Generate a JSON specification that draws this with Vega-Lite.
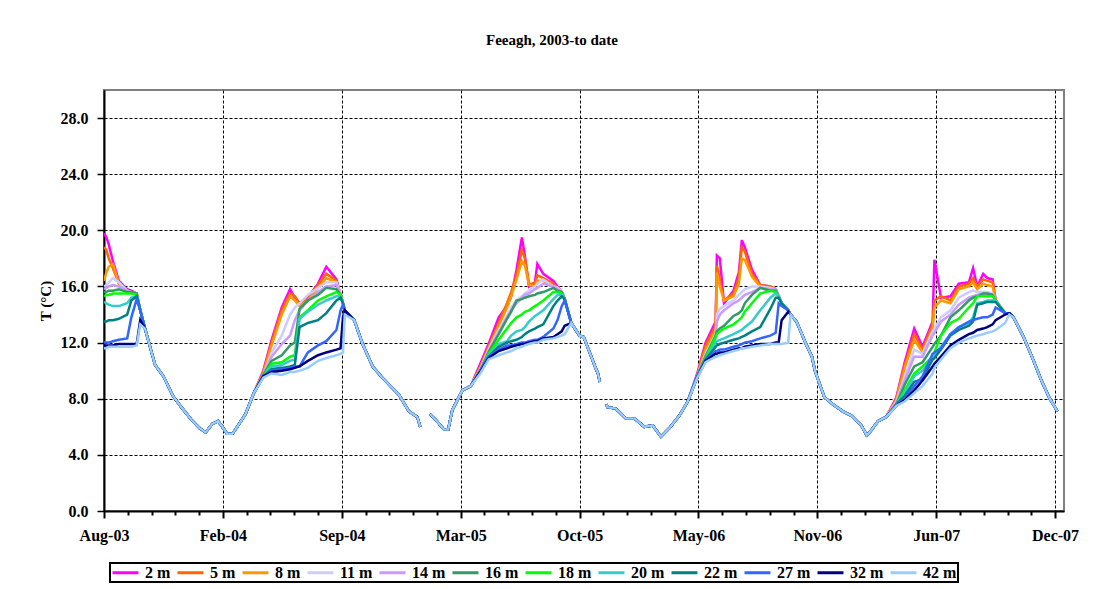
{
  "$schema": "https://vega.github.io/schema/vega-lite/v6.json",
  "width": 960,
  "height": 421,
  "autosize": {"type": "none"},
  "padding": {"left": 104, "top": 90, "right": 41, "bottom": 78},
  "background": "white",
  "title": {
    "text": "Feeagh, 2003-to date",
    "font": "Liberation Serif",
    "fontSize": 15,
    "fontWeight": "bold",
    "color": "black",
    "anchor": "middle",
    "dx": -32,
    "offset": 42
  },
  "config": {
    "view": {"stroke": "#808080", "strokeWidth": 2},
    "axis": {
      "labelFont": "Liberation Serif",
      "labelFontWeight": "bold",
      "labelFontSize": 16,
      "labelColor": "black",
      "titleFont": "Liberation Serif",
      "titleFontWeight": "bold",
      "titleColor": "black",
      "domainColor": "black",
      "domainWidth": 2,
      "tickColor": "black",
      "gridColor": "black",
      "gridDash": [3, 2],
      "gridWidth": 1,
      "labelFlush": false,
      "labelOverlap": false
    }
  },
  "data": {
    "values": [
      {"d":"2003-08-07","2 m":19.8,"5 m":18.8,"8 m":16.4,"11 m":16.0,"14 m":15.8,"16 m":15.6,"18 m":15.3,"20 m":14.9,"22 m":13.5,"27 m":12.0,"32 m":11.8,"42 m":11.6},
      {"d":"2003-08-11","2 m":19.5,"5 m":18.6,"8 m":17.0,"11 m":16.1,"14 m":15.9,"16 m":15.6,"18 m":15.4,"20 m":14.8,"22 m":13.5,"27 m":12.0,"32 m":11.8,"42 m":11.6},
      {"d":"2003-08-15","2 m":19.0,"5 m":18.0,"8 m":17.4,"11 m":16.3,"14 m":16.0,"16 m":15.7,"18 m":15.4,"20 m":14.7,"22 m":13.6,"27 m":12.0,"32 m":11.8,"42 m":11.7},
      {"d":"2003-08-22","2 m":17.8,"5 m":17.3,"8 m":17.6,"11 m":16.6,"14 m":16.1,"16 m":15.7,"18 m":15.5,"20 m":14.6,"22 m":13.6,"27 m":12.1,"32 m":11.8,"42 m":11.7},
      {"d":"2003-09-01","2 m":16.4,"5 m":16.2,"8 m":16.2,"11 m":16.3,"14 m":16.0,"16 m":15.8,"18 m":15.5,"20 m":14.6,"22 m":13.7,"27 m":12.2,"32 m":11.9,"42 m":11.7},
      {"d":"2003-09-15","2 m":15.8,"5 m":15.7,"8 m":15.6,"11 m":15.7,"14 m":15.7,"16 m":15.6,"18 m":15.5,"20 m":14.8,"22 m":14.0,"27 m":12.3,"32 m":11.9,"42 m":11.7},
      {"d":"2003-09-22","2 m":15.7,"5 m":15.6,"8 m":15.6,"11 m":15.6,"14 m":15.6,"16 m":15.6,"18 m":15.5,"20 m":15.2,"22 m":15.0,"27 m":13.8,"32 m":11.9,"42 m":11.7},
      {"d":"2003-10-01","2 m":15.5,"5 m":15.5,"8 m":15.5,"11 m":15.5,"14 m":15.5,"16 m":15.5,"18 m":15.4,"20 m":15.3,"22 m":15.3,"27 m":15.1,"32 m":11.9,"42 m":11.8},
      {"d":"2003-10-07","2 m":14.3,"5 m":14.3,"8 m":14.3,"11 m":14.3,"14 m":14.3,"16 m":14.3,"18 m":14.3,"20 m":14.3,"22 m":14.3,"27 m":14.3,"32 m":13.6,"42 m":13.3},
      {"d":"2003-10-15","2 m":13.0,"5 m":13.0,"8 m":13.0,"11 m":13.0,"14 m":13.0,"16 m":13.0,"18 m":13.0,"20 m":13.0,"22 m":13.0,"27 m":13.0,"32 m":13.0,"42 m":13.0},
      {"d":"2003-11-01","2 m":10.4,"5 m":10.4,"8 m":10.4,"11 m":10.4,"14 m":10.4,"16 m":10.4,"18 m":10.4,"20 m":10.4,"22 m":10.4,"27 m":10.4,"32 m":10.4,"42 m":10.4},
      {"d":"2003-11-15","2 m":9.6,"5 m":9.6,"8 m":9.6,"11 m":9.6,"14 m":9.6,"16 m":9.6,"18 m":9.6,"20 m":9.6,"22 m":9.6,"27 m":9.6,"32 m":9.6,"42 m":9.6},
      {"d":"2003-12-01","2 m":8.2,"5 m":8.2,"8 m":8.2,"11 m":8.2,"14 m":8.2,"16 m":8.2,"18 m":8.2,"20 m":8.2,"22 m":8.2,"27 m":8.2,"32 m":8.2,"42 m":8.2},
      {"d":"2003-12-15","2 m":7.4,"5 m":7.4,"8 m":7.4,"11 m":7.4,"14 m":7.4,"16 m":7.4,"18 m":7.4,"20 m":7.4,"22 m":7.4,"27 m":7.4,"32 m":7.4,"42 m":7.4},
      {"d":"2004-01-01","2 m":6.5,"5 m":6.5,"8 m":6.5,"11 m":6.5,"14 m":6.5,"16 m":6.5,"18 m":6.5,"20 m":6.5,"22 m":6.5,"27 m":6.5,"32 m":6.5,"42 m":6.5},
      {"d":"2004-01-15","2 m":5.9,"5 m":5.9,"8 m":5.9,"11 m":5.9,"14 m":5.9,"16 m":5.9,"18 m":5.9,"20 m":5.9,"22 m":5.9,"27 m":5.9,"32 m":5.9,"42 m":5.9},
      {"d":"2004-01-25","2 m":5.6,"5 m":5.6,"8 m":5.6,"11 m":5.6,"14 m":5.6,"16 m":5.6,"18 m":5.6,"20 m":5.6,"22 m":5.6,"27 m":5.6,"32 m":5.6,"42 m":5.6},
      {"d":"2004-02-05","2 m":6.2,"5 m":6.2,"8 m":6.2,"11 m":6.2,"14 m":6.2,"16 m":6.2,"18 m":6.2,"20 m":6.2,"22 m":6.2,"27 m":6.2,"32 m":6.2,"42 m":6.2},
      {"d":"2004-02-15","2 m":6.4,"5 m":6.4,"8 m":6.4,"11 m":6.4,"14 m":6.4,"16 m":6.4,"18 m":6.4,"20 m":6.4,"22 m":6.4,"27 m":6.4,"32 m":6.4,"42 m":6.4},
      {"d":"2004-02-22","2 m":6.0,"5 m":6.0,"8 m":6.0,"11 m":6.0,"14 m":6.0,"16 m":6.0,"18 m":6.0,"20 m":6.0,"22 m":6.0,"27 m":6.0,"32 m":6.0,"42 m":6.0},
      {"d":"2004-03-01","2 m":5.5,"5 m":5.5,"8 m":5.5,"11 m":5.5,"14 m":5.5,"16 m":5.5,"18 m":5.5,"20 m":5.5,"22 m":5.5,"27 m":5.5,"32 m":5.5,"42 m":5.5},
      {"d":"2004-03-10","2 m":5.5,"5 m":5.5,"8 m":5.5,"11 m":5.5,"14 m":5.5,"16 m":5.5,"18 m":5.5,"20 m":5.5,"22 m":5.5,"27 m":5.5,"32 m":5.5,"42 m":5.5},
      {"d":"2004-03-15","2 m":5.8,"5 m":5.8,"8 m":5.8,"11 m":5.8,"14 m":5.8,"16 m":5.8,"18 m":5.8,"20 m":5.8,"22 m":5.8,"27 m":5.8,"32 m":5.8,"42 m":5.8},
      {"d":"2004-04-01","2 m":6.9,"5 m":6.9,"8 m":6.9,"11 m":6.9,"14 m":6.9,"16 m":6.9,"18 m":6.9,"20 m":6.9,"22 m":6.9,"27 m":6.9,"32 m":6.9,"42 m":6.9},
      {"d":"2004-04-15","2 m":8.4,"5 m":8.4,"8 m":8.4,"11 m":8.4,"14 m":8.4,"16 m":8.4,"18 m":8.4,"20 m":8.4,"22 m":8.4,"27 m":8.4,"32 m":8.4,"42 m":8.4},
      {"d":"2004-05-01","2 m":10.0,"5 m":9.9,"8 m":9.8,"11 m":9.7,"14 m":9.7,"16 m":9.7,"18 m":9.6,"20 m":9.6,"22 m":9.6,"27 m":9.6,"32 m":9.6,"42 m":9.5},
      {"d":"2004-05-15","2 m":12.2,"5 m":12.0,"8 m":11.8,"11 m":11.3,"14 m":11.0,"16 m":10.7,"18 m":10.5,"20 m":10.3,"22 m":10.1,"27 m":10.0,"32 m":9.9,"42 m":9.8},
      {"d":"2004-06-01","2 m":14.5,"5 m":14.3,"8 m":14.0,"11 m":12.5,"14 m":11.9,"16 m":11.1,"18 m":10.6,"20 m":10.4,"22 m":10.2,"27 m":10.1,"32 m":10.0,"42 m":9.7},
      {"d":"2004-06-15","2 m":15.8,"5 m":15.5,"8 m":15.3,"11 m":14.0,"14 m":12.5,"16 m":11.8,"18 m":11.0,"20 m":10.7,"22 m":10.3,"27 m":10.2,"32 m":10.1,"42 m":9.9},
      {"d":"2004-06-23","2 m":15.2,"5 m":15.3,"8 m":15.0,"11 m":14.5,"14 m":13.6,"16 m":12.0,"18 m":11.1,"20 m":10.8,"22 m":10.4,"27 m":10.3,"32 m":10.2,"42 m":9.9},
      {"d":"2004-07-01","2 m":14.8,"5 m":14.8,"8 m":14.6,"11 m":14.8,"14 m":14.3,"16 m":14.4,"18 m":13.8,"20 m":13.7,"22 m":13.1,"27 m":10.3,"32 m":10.3,"42 m":10.0},
      {"d":"2004-07-15","2 m":15.2,"5 m":15.1,"8 m":15.0,"11 m":15.4,"14 m":15.0,"16 m":15.0,"18 m":14.3,"20 m":14.2,"22 m":13.4,"27 m":11.3,"32 m":10.7,"42 m":10.2},
      {"d":"2004-08-01","2 m":16.2,"5 m":16.1,"8 m":15.9,"11 m":15.9,"14 m":15.6,"16 m":15.4,"18 m":15.0,"20 m":14.7,"22 m":13.6,"27 m":11.8,"32 m":11.1,"42 m":10.7},
      {"d":"2004-08-15","2 m":17.4,"5 m":16.9,"8 m":16.6,"11 m":16.3,"14 m":16.0,"16 m":15.9,"18 m":15.3,"20 m":15.0,"22 m":14.1,"27 m":12.1,"32 m":11.3,"42 m":10.9},
      {"d":"2004-09-01","2 m":16.5,"5 m":16.4,"8 m":16.3,"11 m":16.3,"14 m":16.1,"16 m":15.8,"18 m":15.6,"20 m":15.3,"22 m":15.0,"27 m":12.9,"32 m":11.5,"42 m":11.1},
      {"d":"2004-09-08","2 m":15.4,"5 m":15.4,"8 m":15.4,"11 m":15.4,"14 m":15.4,"16 m":15.4,"18 m":15.4,"20 m":15.3,"22 m":15.2,"27 m":14.3,"32 m":11.6,"42 m":11.2},
      {"d":"2004-09-12","2 m":14.8,"5 m":14.8,"8 m":14.8,"11 m":14.8,"14 m":14.8,"16 m":14.8,"18 m":14.8,"20 m":14.8,"22 m":14.8,"27 m":14.7,"32 m":13.8,"42 m":11.3},
      {"d":"2004-09-15","2 m":14.3,"5 m":14.3,"8 m":14.3,"11 m":14.3,"14 m":14.3,"16 m":14.3,"18 m":14.3,"20 m":14.3,"22 m":14.3,"27 m":14.3,"32 m":14.3,"42 m":14.0},
      {"d":"2004-10-01","2 m":13.6,"5 m":13.6,"8 m":13.6,"11 m":13.6,"14 m":13.6,"16 m":13.6,"18 m":13.6,"20 m":13.6,"22 m":13.6,"27 m":13.6,"32 m":13.6,"42 m":13.6},
      {"d":"2004-10-15","2 m":11.9,"5 m":11.9,"8 m":11.9,"11 m":11.9,"14 m":11.9,"16 m":11.9,"18 m":11.9,"20 m":11.9,"22 m":11.9,"27 m":11.9,"32 m":11.9,"42 m":11.9},
      {"d":"2004-11-01","2 m":10.3,"5 m":10.3,"8 m":10.3,"11 m":10.3,"14 m":10.3,"16 m":10.3,"18 m":10.3,"20 m":10.3,"22 m":10.3,"27 m":10.3,"32 m":10.3,"42 m":10.3},
      {"d":"2004-11-15","2 m":9.6,"5 m":9.6,"8 m":9.6,"11 m":9.6,"14 m":9.6,"16 m":9.6,"18 m":9.6,"20 m":9.6,"22 m":9.6,"27 m":9.6,"32 m":9.6,"42 m":9.6},
      {"d":"2004-12-01","2 m":8.9,"5 m":8.9,"8 m":8.9,"11 m":8.9,"14 m":8.9,"16 m":8.9,"18 m":8.9,"20 m":8.9,"22 m":8.9,"27 m":8.9,"32 m":8.9,"42 m":8.9},
      {"d":"2004-12-15","2 m":8.3,"5 m":8.3,"8 m":8.3,"11 m":8.3,"14 m":8.3,"16 m":8.3,"18 m":8.3,"20 m":8.3,"22 m":8.3,"27 m":8.3,"32 m":8.3,"42 m":8.3},
      {"d":"2005-01-01","2 m":7.1,"5 m":7.1,"8 m":7.1,"11 m":7.1,"14 m":7.1,"16 m":7.1,"18 m":7.1,"20 m":7.1,"22 m":7.1,"27 m":7.1,"32 m":7.1,"42 m":7.1},
      {"d":"2005-01-15","2 m":6.7,"5 m":6.7,"8 m":6.7,"11 m":6.7,"14 m":6.7,"16 m":6.7,"18 m":6.7,"20 m":6.7,"22 m":6.7,"27 m":6.7,"32 m":6.7,"42 m":6.7},
      {"d":"2005-01-20","2 m":6.0,"5 m":6.0,"8 m":6.0,"11 m":6.0,"14 m":6.0,"16 m":6.0,"18 m":6.0,"20 m":6.0,"22 m":6.0,"27 m":6.0,"32 m":6.0,"42 m":6.0},
      {"d":"2005-01-27","2 m":null,"5 m":null,"8 m":null,"11 m":null,"14 m":null,"16 m":null,"18 m":null,"20 m":null,"22 m":null,"27 m":null,"32 m":null,"42 m":null},
      {"d":"2005-02-05","2 m":6.9,"5 m":6.9,"8 m":6.9,"11 m":6.9,"14 m":6.9,"16 m":6.9,"18 m":6.9,"20 m":6.9,"22 m":6.9,"27 m":6.9,"32 m":6.9,"42 m":6.9},
      {"d":"2005-02-15","2 m":6.5,"5 m":6.5,"8 m":6.5,"11 m":6.5,"14 m":6.5,"16 m":6.5,"18 m":6.5,"20 m":6.5,"22 m":6.5,"27 m":6.5,"32 m":6.5,"42 m":6.5},
      {"d":"2005-03-01","2 m":5.8,"5 m":5.8,"8 m":5.8,"11 m":5.8,"14 m":5.8,"16 m":5.8,"18 m":5.8,"20 m":5.8,"22 m":5.8,"27 m":5.8,"32 m":5.8,"42 m":5.8},
      {"d":"2005-03-08","2 m":5.8,"5 m":5.8,"8 m":5.8,"11 m":5.8,"14 m":5.8,"16 m":5.8,"18 m":5.8,"20 m":5.8,"22 m":5.8,"27 m":5.8,"32 m":5.8,"42 m":5.8},
      {"d":"2005-03-15","2 m":7.2,"5 m":7.2,"8 m":7.2,"11 m":7.2,"14 m":7.2,"16 m":7.2,"18 m":7.2,"20 m":7.2,"22 m":7.2,"27 m":7.2,"32 m":7.2,"42 m":7.2},
      {"d":"2005-04-01","2 m":8.6,"5 m":8.6,"8 m":8.6,"11 m":8.6,"14 m":8.6,"16 m":8.6,"18 m":8.6,"20 m":8.6,"22 m":8.6,"27 m":8.6,"32 m":8.6,"42 m":8.6},
      {"d":"2005-04-15","2 m":8.9,"5 m":8.9,"8 m":8.9,"11 m":8.9,"14 m":8.9,"16 m":8.9,"18 m":8.9,"20 m":8.9,"22 m":8.9,"27 m":8.9,"32 m":8.9,"42 m":8.9},
      {"d":"2005-05-01","2 m":10.5,"5 m":10.3,"8 m":10.2,"11 m":10.1,"14 m":10.0,"16 m":10.0,"18 m":10.0,"20 m":10.0,"22 m":10.0,"27 m":10.0,"32 m":9.9,"42 m":9.8},
      {"d":"2005-05-15","2 m":11.9,"5 m":11.7,"8 m":11.6,"11 m":11.5,"14 m":11.4,"16 m":11.3,"18 m":11.2,"20 m":11.1,"22 m":11.0,"27 m":11.0,"32 m":10.9,"42 m":10.8},
      {"d":"2005-06-01","2 m":13.8,"5 m":13.4,"8 m":13.2,"11 m":12.9,"14 m":12.7,"16 m":12.6,"18 m":12.2,"20 m":11.9,"22 m":11.7,"27 m":11.5,"32 m":11.4,"42 m":11.1},
      {"d":"2005-06-15","2 m":14.6,"5 m":14.8,"8 m":14.5,"11 m":13.9,"14 m":13.8,"16 m":13.7,"18 m":13.0,"20 m":12.1,"22 m":12.0,"27 m":11.8,"32 m":11.6,"42 m":11.3},
      {"d":"2005-06-22","2 m":15.3,"5 m":15.6,"8 m":15.3,"11 m":14.5,"14 m":14.3,"16 m":14.2,"18 m":13.4,"20 m":12.5,"22 m":12.1,"27 m":11.8,"32 m":11.7,"42 m":11.4},
      {"d":"2005-07-01","2 m":17.2,"5 m":16.8,"8 m":16.5,"11 m":15.0,"14 m":14.8,"16 m":15.0,"18 m":13.8,"20 m":12.8,"22 m":12.2,"27 m":11.9,"32 m":11.8,"42 m":11.6},
      {"d":"2005-07-10","2 m":19.5,"5 m":18.6,"8 m":17.8,"11 m":15.3,"14 m":15.2,"16 m":15.1,"18 m":14.0,"20 m":12.9,"22 m":12.4,"27 m":12.0,"32 m":11.9,"42 m":11.7},
      {"d":"2005-07-15","2 m":18.2,"5 m":18.0,"8 m":17.5,"11 m":15.5,"14 m":15.4,"16 m":15.2,"18 m":14.2,"20 m":13.1,"22 m":12.6,"27 m":12.0,"32 m":11.9,"42 m":11.8},
      {"d":"2005-07-22","2 m":16.0,"5 m":16.2,"8 m":16.1,"11 m":15.7,"14 m":15.5,"16 m":15.3,"18 m":14.3,"20 m":13.5,"22 m":12.8,"27 m":12.1,"32 m":12.0,"42 m":11.9},
      {"d":"2005-08-01","2 m":16.3,"5 m":16.2,"8 m":16.0,"11 m":16.0,"14 m":15.8,"16 m":15.4,"18 m":14.6,"20 m":13.9,"22 m":13.0,"27 m":12.2,"32 m":12.1,"42 m":12.0},
      {"d":"2005-08-05","2 m":17.6,"5 m":16.8,"8 m":16.4,"11 m":16.2,"14 m":15.9,"16 m":15.5,"18 m":14.7,"20 m":14.0,"22 m":13.1,"27 m":12.2,"32 m":12.1,"42 m":12.0},
      {"d":"2005-08-15","2 m":16.9,"5 m":16.6,"8 m":16.4,"11 m":16.5,"14 m":16.2,"16 m":15.6,"18 m":15.0,"20 m":14.3,"22 m":13.3,"27 m":12.4,"32 m":12.3,"42 m":12.2},
      {"d":"2005-09-01","2 m":16.4,"5 m":16.2,"8 m":16.0,"11 m":16.0,"14 m":16.0,"16 m":15.9,"18 m":15.6,"20 m":15.1,"22 m":14.6,"27 m":13.0,"32 m":12.4,"42 m":12.3},
      {"d":"2005-09-08","2 m":16.0,"5 m":15.9,"8 m":15.9,"11 m":15.9,"14 m":15.8,"16 m":15.7,"18 m":15.6,"20 m":15.4,"22 m":15.0,"27 m":13.6,"32 m":12.6,"42 m":12.4},
      {"d":"2005-09-15","2 m":15.6,"5 m":15.6,"8 m":15.6,"11 m":15.6,"14 m":15.6,"16 m":15.6,"18 m":15.5,"20 m":15.4,"22 m":15.3,"27 m":14.6,"32 m":12.8,"42 m":12.5},
      {"d":"2005-09-20","2 m":15.1,"5 m":15.1,"8 m":15.1,"11 m":15.1,"14 m":15.1,"16 m":15.1,"18 m":15.1,"20 m":15.1,"22 m":15.1,"27 m":15.0,"32 m":13.2,"42 m":12.6},
      {"d":"2005-10-01","2 m":13.4,"5 m":13.4,"8 m":13.4,"11 m":13.4,"14 m":13.4,"16 m":13.4,"18 m":13.4,"20 m":13.4,"22 m":13.4,"27 m":13.4,"32 m":13.4,"42 m":13.4},
      {"d":"2005-10-15","2 m":12.5,"5 m":12.5,"8 m":12.5,"11 m":12.5,"14 m":12.5,"16 m":12.5,"18 m":12.5,"20 m":12.5,"22 m":12.5,"27 m":12.5,"32 m":12.5,"42 m":12.5},
      {"d":"2005-10-22","2 m":12.4,"5 m":12.4,"8 m":12.4,"11 m":12.4,"14 m":12.4,"16 m":12.4,"18 m":12.4,"20 m":12.4,"22 m":12.4,"27 m":12.4,"32 m":12.4,"42 m":12.4},
      {"d":"2005-11-01","2 m":11.3,"5 m":11.3,"8 m":11.3,"11 m":11.3,"14 m":11.3,"16 m":11.3,"18 m":11.3,"20 m":11.3,"22 m":11.3,"27 m":11.3,"32 m":11.3,"42 m":11.3},
      {"d":"2005-11-10","2 m":10.3,"5 m":10.3,"8 m":10.3,"11 m":10.3,"14 m":10.3,"16 m":10.3,"18 m":10.3,"20 m":10.3,"22 m":10.3,"27 m":10.3,"32 m":10.3,"42 m":10.3},
      {"d":"2005-11-15","2 m":9.8,"5 m":9.8,"8 m":9.8,"11 m":9.8,"14 m":9.8,"16 m":9.8,"18 m":9.8,"20 m":9.8,"22 m":9.8,"27 m":9.8,"32 m":9.8,"42 m":9.8},
      {"d":"2005-11-18","2 m":9.2,"5 m":9.2,"8 m":9.2,"11 m":9.2,"14 m":9.2,"16 m":9.2,"18 m":9.2,"20 m":9.2,"22 m":9.2,"27 m":9.2,"32 m":9.2,"42 m":9.2},
      {"d":"2005-11-23","2 m":null,"5 m":null,"8 m":null,"11 m":null,"14 m":null,"16 m":null,"18 m":null,"20 m":null,"22 m":null,"27 m":null,"32 m":null,"42 m":null},
      {"d":"2005-11-29","2 m":7.6,"5 m":7.6,"8 m":7.6,"11 m":7.6,"14 m":7.6,"16 m":7.6,"18 m":7.6,"20 m":7.6,"22 m":7.6,"27 m":7.6,"32 m":7.6,"42 m":7.6},
      {"d":"2005-12-01","2 m":7.4,"5 m":7.4,"8 m":7.4,"11 m":7.4,"14 m":7.4,"16 m":7.4,"18 m":7.4,"20 m":7.4,"22 m":7.4,"27 m":7.4,"32 m":7.4,"42 m":7.4},
      {"d":"2005-12-15","2 m":7.3,"5 m":7.3,"8 m":7.3,"11 m":7.3,"14 m":7.3,"16 m":7.3,"18 m":7.3,"20 m":7.3,"22 m":7.3,"27 m":7.3,"32 m":7.3,"42 m":7.3},
      {"d":"2006-01-01","2 m":6.6,"5 m":6.6,"8 m":6.6,"11 m":6.6,"14 m":6.6,"16 m":6.6,"18 m":6.6,"20 m":6.6,"22 m":6.6,"27 m":6.6,"32 m":6.6,"42 m":6.6},
      {"d":"2006-01-15","2 m":6.6,"5 m":6.6,"8 m":6.6,"11 m":6.6,"14 m":6.6,"16 m":6.6,"18 m":6.6,"20 m":6.6,"22 m":6.6,"27 m":6.6,"32 m":6.6,"42 m":6.6},
      {"d":"2006-02-01","2 m":6.0,"5 m":6.0,"8 m":6.0,"11 m":6.0,"14 m":6.0,"16 m":6.0,"18 m":6.0,"20 m":6.0,"22 m":6.0,"27 m":6.0,"32 m":6.0,"42 m":6.0},
      {"d":"2006-02-15","2 m":6.1,"5 m":6.1,"8 m":6.1,"11 m":6.1,"14 m":6.1,"16 m":6.1,"18 m":6.1,"20 m":6.1,"22 m":6.1,"27 m":6.1,"32 m":6.1,"42 m":6.1},
      {"d":"2006-03-01","2 m":5.3,"5 m":5.3,"8 m":5.3,"11 m":5.3,"14 m":5.3,"16 m":5.3,"18 m":5.3,"20 m":5.3,"22 m":5.3,"27 m":5.3,"32 m":5.3,"42 m":5.3},
      {"d":"2006-03-15","2 m":5.9,"5 m":5.9,"8 m":5.9,"11 m":5.9,"14 m":5.9,"16 m":5.9,"18 m":5.9,"20 m":5.9,"22 m":5.9,"27 m":5.9,"32 m":5.9,"42 m":5.9},
      {"d":"2006-04-01","2 m":6.8,"5 m":6.8,"8 m":6.8,"11 m":6.8,"14 m":6.8,"16 m":6.8,"18 m":6.8,"20 m":6.8,"22 m":6.8,"27 m":6.8,"32 m":6.8,"42 m":6.8},
      {"d":"2006-04-15","2 m":7.8,"5 m":7.8,"8 m":7.8,"11 m":7.8,"14 m":7.8,"16 m":7.8,"18 m":7.8,"20 m":7.8,"22 m":7.8,"27 m":7.8,"32 m":7.8,"42 m":7.8},
      {"d":"2006-05-01","2 m":9.8,"5 m":9.7,"8 m":9.6,"11 m":9.6,"14 m":9.6,"16 m":9.6,"18 m":9.6,"20 m":9.6,"22 m":9.6,"27 m":9.6,"32 m":9.5,"42 m":9.5},
      {"d":"2006-05-15","2 m":12.0,"5 m":11.8,"8 m":11.5,"11 m":11.2,"14 m":11.1,"16 m":11.0,"18 m":10.9,"20 m":10.8,"22 m":10.8,"27 m":10.7,"32 m":10.7,"42 m":10.6},
      {"d":"2006-06-01","2 m":13.5,"5 m":13.2,"8 m":12.9,"11 m":12.6,"14 m":12.3,"16 m":12.5,"18 m":12.4,"20 m":12.0,"22 m":11.7,"27 m":11.4,"32 m":11.2,"42 m":11.0},
      {"d":"2006-06-03","2 m":18.2,"5 m":17.5,"8 m":17.0,"11 m":14.0,"14 m":13.5,"16 m":12.8,"18 m":12.6,"20 m":12.1,"22 m":11.8,"27 m":11.4,"32 m":11.2,"42 m":11.0},
      {"d":"2006-06-08","2 m":18.0,"5 m":16.5,"8 m":16.0,"11 m":14.4,"14 m":14.0,"16 m":13.0,"18 m":12.8,"20 m":12.2,"22 m":11.9,"27 m":11.5,"32 m":11.3,"42 m":11.1},
      {"d":"2006-06-15","2 m":14.8,"5 m":15.0,"8 m":15.0,"11 m":14.6,"14 m":14.3,"16 m":13.2,"18 m":13.0,"20 m":12.3,"22 m":12.0,"27 m":11.5,"32 m":11.3,"42 m":11.2},
      {"d":"2006-07-01","2 m":15.7,"5 m":15.5,"8 m":15.3,"11 m":15.0,"14 m":14.8,"16 m":13.9,"18 m":13.3,"20 m":12.6,"22 m":12.2,"27 m":11.7,"32 m":11.5,"42 m":11.4},
      {"d":"2006-07-10","2 m":17.0,"5 m":16.6,"8 m":16.2,"11 m":15.4,"14 m":15.0,"16 m":14.1,"18 m":13.6,"20 m":12.8,"22 m":12.3,"27 m":11.8,"32 m":11.6,"42 m":11.5},
      {"d":"2006-07-15","2 m":19.3,"5 m":18.8,"8 m":18.0,"11 m":15.6,"14 m":15.2,"16 m":14.3,"18 m":13.8,"20 m":12.9,"22 m":12.4,"27 m":11.9,"32 m":11.6,"42 m":11.6},
      {"d":"2006-07-20","2 m":18.8,"5 m":18.5,"8 m":17.9,"11 m":15.8,"14 m":15.4,"16 m":14.8,"18 m":14.2,"20 m":13.1,"22 m":12.5,"27 m":12.0,"32 m":11.7,"42 m":11.6},
      {"d":"2006-08-01","2 m":17.2,"5 m":16.9,"8 m":16.7,"11 m":16.0,"14 m":15.6,"16 m":15.4,"18 m":14.8,"20 m":13.5,"22 m":12.8,"27 m":12.1,"32 m":11.8,"42 m":11.7},
      {"d":"2006-08-15","2 m":16.1,"5 m":16.1,"8 m":16.0,"11 m":16.0,"14 m":15.9,"16 m":15.9,"18 m":15.5,"20 m":14.3,"22 m":13.1,"27 m":12.3,"32 m":11.9,"42 m":11.8},
      {"d":"2006-09-01","2 m":16.0,"5 m":16.0,"8 m":15.9,"11 m":15.9,"14 m":15.8,"16 m":15.7,"18 m":15.7,"20 m":15.2,"22 m":14.4,"27 m":12.5,"32 m":11.9,"42 m":11.9},
      {"d":"2006-09-10","2 m":15.8,"5 m":15.8,"8 m":15.8,"11 m":15.8,"14 m":15.8,"16 m":15.7,"18 m":15.6,"20 m":15.5,"22 m":15.2,"27 m":12.7,"32 m":12.0,"42 m":11.9},
      {"d":"2006-09-15","2 m":15.3,"5 m":15.3,"8 m":15.3,"11 m":15.3,"14 m":15.3,"16 m":15.3,"18 m":15.3,"20 m":15.3,"22 m":15.2,"27 m":14.8,"32 m":12.0,"42 m":11.9},
      {"d":"2006-09-20","2 m":14.8,"5 m":14.8,"8 m":14.8,"11 m":14.8,"14 m":14.8,"16 m":14.8,"18 m":14.8,"20 m":14.8,"22 m":14.8,"27 m":14.6,"32 m":13.6,"42 m":11.9},
      {"d":"2006-10-01","2 m":14.3,"5 m":14.3,"8 m":14.3,"11 m":14.3,"14 m":14.3,"16 m":14.3,"18 m":14.3,"20 m":14.3,"22 m":14.3,"27 m":14.3,"32 m":14.2,"42 m":12.0},
      {"d":"2006-10-05","2 m":14.0,"5 m":14.0,"8 m":14.0,"11 m":14.0,"14 m":14.0,"16 m":14.0,"18 m":14.0,"20 m":14.0,"22 m":14.0,"27 m":14.0,"32 m":14.0,"42 m":14.0},
      {"d":"2006-10-15","2 m":13.5,"5 m":13.5,"8 m":13.5,"11 m":13.5,"14 m":13.5,"16 m":13.5,"18 m":13.5,"20 m":13.5,"22 m":13.5,"27 m":13.5,"32 m":13.5,"42 m":13.5},
      {"d":"2006-11-01","2 m":11.8,"5 m":11.8,"8 m":11.8,"11 m":11.8,"14 m":11.8,"16 m":11.8,"18 m":11.8,"20 m":11.8,"22 m":11.8,"27 m":11.8,"32 m":11.8,"42 m":11.8},
      {"d":"2006-11-10","2 m":11.0,"5 m":11.0,"8 m":11.0,"11 m":11.0,"14 m":11.0,"16 m":11.0,"18 m":11.0,"20 m":11.0,"22 m":11.0,"27 m":11.0,"32 m":11.0,"42 m":11.0},
      {"d":"2006-11-15","2 m":10.0,"5 m":10.0,"8 m":10.0,"11 m":10.0,"14 m":10.0,"16 m":10.0,"18 m":10.0,"20 m":10.0,"22 m":10.0,"27 m":10.0,"32 m":10.0,"42 m":10.0},
      {"d":"2006-12-01","2 m":8.1,"5 m":8.1,"8 m":8.1,"11 m":8.1,"14 m":8.1,"16 m":8.1,"18 m":8.1,"20 m":8.1,"22 m":8.1,"27 m":8.1,"32 m":8.1,"42 m":8.1},
      {"d":"2006-12-15","2 m":7.6,"5 m":7.6,"8 m":7.6,"11 m":7.6,"14 m":7.6,"16 m":7.6,"18 m":7.6,"20 m":7.6,"22 m":7.6,"27 m":7.6,"32 m":7.6,"42 m":7.6},
      {"d":"2007-01-01","2 m":7.1,"5 m":7.1,"8 m":7.1,"11 m":7.1,"14 m":7.1,"16 m":7.1,"18 m":7.1,"20 m":7.1,"22 m":7.1,"27 m":7.1,"32 m":7.1,"42 m":7.1},
      {"d":"2007-01-15","2 m":6.8,"5 m":6.8,"8 m":6.8,"11 m":6.8,"14 m":6.8,"16 m":6.8,"18 m":6.8,"20 m":6.8,"22 m":6.8,"27 m":6.8,"32 m":6.8,"42 m":6.8},
      {"d":"2007-02-01","2 m":6.1,"5 m":6.1,"8 m":6.1,"11 m":6.1,"14 m":6.1,"16 m":6.1,"18 m":6.1,"20 m":6.1,"22 m":6.1,"27 m":6.1,"32 m":6.1,"42 m":6.1},
      {"d":"2007-02-10","2 m":5.4,"5 m":5.4,"8 m":5.4,"11 m":5.4,"14 m":5.4,"16 m":5.4,"18 m":5.4,"20 m":5.4,"22 m":5.4,"27 m":5.4,"32 m":5.4,"42 m":5.4},
      {"d":"2007-02-15","2 m":5.6,"5 m":5.6,"8 m":5.6,"11 m":5.6,"14 m":5.6,"16 m":5.6,"18 m":5.6,"20 m":5.6,"22 m":5.6,"27 m":5.6,"32 m":5.6,"42 m":5.6},
      {"d":"2007-03-01","2 m":6.4,"5 m":6.4,"8 m":6.4,"11 m":6.4,"14 m":6.4,"16 m":6.4,"18 m":6.4,"20 m":6.4,"22 m":6.4,"27 m":6.4,"32 m":6.4,"42 m":6.4},
      {"d":"2007-03-15","2 m":6.7,"5 m":6.7,"8 m":6.7,"11 m":6.7,"14 m":6.7,"16 m":6.7,"18 m":6.7,"20 m":6.7,"22 m":6.7,"27 m":6.7,"32 m":6.7,"42 m":6.7},
      {"d":"2007-04-01","2 m":8.1,"5 m":8.0,"8 m":7.9,"11 m":7.8,"14 m":7.7,"16 m":7.6,"18 m":7.6,"20 m":7.6,"22 m":7.6,"27 m":7.6,"32 m":7.5,"42 m":7.5},
      {"d":"2007-04-15","2 m":10.6,"5 m":10.4,"8 m":10.2,"11 m":9.6,"14 m":9.3,"16 m":9.0,"18 m":8.6,"20 m":8.4,"22 m":8.2,"27 m":8.0,"32 m":7.9,"42 m":7.8},
      {"d":"2007-05-01","2 m":13.0,"5 m":12.6,"8 m":12.2,"11 m":11.5,"14 m":11.0,"16 m":10.3,"18 m":9.8,"20 m":9.6,"22 m":9.2,"27 m":8.9,"32 m":8.6,"42 m":8.4},
      {"d":"2007-05-15","2 m":11.7,"5 m":11.5,"8 m":11.3,"11 m":11.2,"14 m":11.0,"16 m":10.6,"18 m":10.3,"20 m":10.0,"22 m":9.4,"27 m":9.6,"32 m":9.3,"42 m":8.9},
      {"d":"2007-06-01","2 m":13.5,"5 m":13.3,"8 m":13.0,"11 m":12.8,"14 m":12.5,"16 m":11.7,"18 m":11.0,"20 m":11.0,"22 m":10.8,"27 m":11.2,"32 m":10.3,"42 m":9.8},
      {"d":"2007-06-04","2 m":17.9,"5 m":15.0,"8 m":14.5,"11 m":13.0,"14 m":12.7,"16 m":11.9,"18 m":11.3,"20 m":11.1,"22 m":10.9,"27 m":11.3,"32 m":10.5,"42 m":10.2},
      {"d":"2007-06-15","2 m":15.2,"5 m":15.3,"8 m":15.0,"11 m":13.8,"14 m":13.5,"16 m":12.5,"18 m":12.5,"20 m":11.7,"22 m":11.5,"27 m":11.6,"32 m":11.0,"42 m":10.8},
      {"d":"2007-07-01","2 m":15.3,"5 m":15.0,"8 m":14.8,"11 m":14.3,"14 m":14.0,"16 m":13.8,"18 m":13.4,"20 m":12.6,"22 m":12.5,"27 m":12.6,"32 m":11.8,"42 m":11.6},
      {"d":"2007-07-15","2 m":16.2,"5 m":16.0,"8 m":15.8,"11 m":15.2,"14 m":14.7,"16 m":14.3,"18 m":13.7,"20 m":13.1,"22 m":12.9,"27 m":13.1,"32 m":12.2,"42 m":12.0},
      {"d":"2007-08-01","2 m":16.3,"5 m":16.2,"8 m":16.0,"11 m":15.6,"14 m":15.2,"16 m":15.0,"18 m":14.5,"20 m":13.4,"22 m":13.2,"27 m":13.5,"32 m":12.6,"42 m":12.3},
      {"d":"2007-08-08","2 m":17.3,"5 m":16.6,"8 m":16.3,"11 m":15.7,"14 m":15.3,"16 m":15.2,"18 m":14.8,"20 m":13.8,"22 m":13.5,"27 m":13.6,"32 m":12.7,"42 m":12.4},
      {"d":"2007-08-15","2 m":16.0,"5 m":16.0,"8 m":15.8,"11 m":15.6,"14 m":15.4,"16 m":15.3,"18 m":15.3,"20 m":14.8,"22 m":14.7,"27 m":13.7,"32 m":12.9,"42 m":12.5},
      {"d":"2007-08-25","2 m":16.9,"5 m":16.5,"8 m":16.2,"11 m":15.6,"14 m":15.5,"16 m":15.5,"18 m":15.3,"20 m":14.9,"22 m":14.8,"27 m":13.8,"32 m":13.0,"42 m":12.6},
      {"d":"2007-09-01","2 m":16.6,"5 m":16.4,"8 m":16.1,"11 m":15.6,"14 m":15.5,"16 m":15.5,"18 m":15.3,"20 m":15.0,"22 m":14.9,"27 m":13.8,"32 m":13.1,"42 m":12.7},
      {"d":"2007-09-10","2 m":16.5,"5 m":16.3,"8 m":16.0,"11 m":15.5,"14 m":15.4,"16 m":15.4,"18 m":15.3,"20 m":15.0,"22 m":14.9,"27 m":14.0,"32 m":13.3,"42 m":12.8},
      {"d":"2007-09-15","2 m":15.0,"5 m":15.0,"8 m":15.0,"11 m":15.0,"14 m":15.0,"16 m":15.0,"18 m":15.0,"20 m":15.0,"22 m":14.9,"27 m":14.5,"32 m":13.6,"42 m":12.9},
      {"d":"2007-10-01","2 m":14.1,"5 m":14.1,"8 m":14.1,"11 m":14.1,"14 m":14.1,"16 m":14.1,"18 m":14.1,"20 m":14.1,"22 m":14.1,"27 m":14.1,"32 m":14.0,"42 m":13.4},
      {"d":"2007-10-08","2 m":14.1,"5 m":14.1,"8 m":14.1,"11 m":14.1,"14 m":14.1,"16 m":14.1,"18 m":14.1,"20 m":14.1,"22 m":14.1,"27 m":14.1,"32 m":14.1,"42 m":14.0},
      {"d":"2007-10-15","2 m":13.8,"5 m":13.8,"8 m":13.8,"11 m":13.8,"14 m":13.8,"16 m":13.8,"18 m":13.8,"20 m":13.8,"22 m":13.8,"27 m":13.8,"32 m":13.8,"42 m":13.8},
      {"d":"2007-11-01","2 m":12.4,"5 m":12.4,"8 m":12.4,"11 m":12.4,"14 m":12.4,"16 m":12.4,"18 m":12.4,"20 m":12.4,"22 m":12.4,"27 m":12.4,"32 m":12.4,"42 m":12.4},
      {"d":"2007-11-15","2 m":11.0,"5 m":11.0,"8 m":11.0,"11 m":11.0,"14 m":11.0,"16 m":11.0,"18 m":11.0,"20 m":11.0,"22 m":11.0,"27 m":11.0,"32 m":11.0,"42 m":11.0},
      {"d":"2007-12-01","2 m":9.3,"5 m":9.3,"8 m":9.3,"11 m":9.3,"14 m":9.3,"16 m":9.3,"18 m":9.3,"20 m":9.3,"22 m":9.3,"27 m":9.3,"32 m":9.3,"42 m":9.3},
      {"d":"2007-12-15","2 m":8.0,"5 m":8.0,"8 m":8.0,"11 m":8.0,"14 m":8.0,"16 m":8.0,"18 m":8.0,"20 m":8.0,"22 m":8.0,"27 m":8.0,"32 m":8.0,"42 m":8.0},
      {"d":"2007-12-28","2 m":7.1,"5 m":7.1,"8 m":7.1,"11 m":7.1,"14 m":7.1,"16 m":7.1,"18 m":7.1,"20 m":7.1,"22 m":7.1,"27 m":7.1,"32 m":7.1,"42 m":7.1}
    ]
  },
  "transform": [
    {"fold": ["2 m","5 m","8 m","11 m","14 m","16 m","18 m","20 m","22 m","27 m","32 m","42 m"], "as": ["depth", "t"]}
  ],
  "mark": {"type": "line", "strokeWidth": 2.5, "invalid": "break-paths-filter-domains", "clip": true},
  "encoding": {
    "x": {
      "field": "d",
      "type": "temporal",
      "scale": {"type": "utc", "domain": [1060214400000, 1199750400000]},
      "axis": {
        "title": null,
        "format": "%b-%y",
        "values": [1060214400000,1063670400000,1067126400000,1070582400000,1074038400000,1077494400000,1080950400000,1084406400000,1087862400000,1091318400000,1094774400000,1098230400000,1101686400000,1105142400000,1108598400000,1112054400000,1115510400000,1118966400000,1122422400000,1125878400000,1129334400000,1132790400000,1136246400000,1139702400000,1143158400000,1146614400000,1150070400000,1153526400000,1156982400000,1160438400000,1163894400000,1167350400000,1170806400000,1174262400000,1177718400000,1181174400000,1184630400000,1188086400000,1191542400000,1194998400000,1198454400000],
        "labelExpr": "((+datum.value - 1060214400000) % 17280000000 === 0) ? datum.label : ''",
        "grid": true,
        "gridOpacity": {"condition": {"test": "(+datum.value - 1060214400000) % 17280000000 === 0", "value": 1}, "value": 0},
        "tickSize": {"condition": {"test": "(+datum.value - 1060214400000) % 17280000000 === 0", "value": 7}, "value": 4},
        "tickWidth": 2,
        "labelPadding": 9
      }
    },
    "y": {
      "field": "t",
      "type": "quantitative",
      "scale": {"domain": [0, 30], "nice": false},
      "axis": {
        "title": "T (°C)",
        "titleFontSize": 15,
        "titlePadding": 7,
        "values": [0, 4, 8, 12, 16, 20, 24, 28],
        "format": ".1f",
        "grid": true,
        "tickSize": 7,
        "tickWidth": 1.5,
        "labelPadding": 9
      }
    },
    "color": {
      "field": "depth",
      "type": "nominal",
      "scale": {
        "domain": ["2 m","5 m","8 m","11 m","14 m","16 m","18 m","20 m","22 m","27 m","32 m","42 m"],
        "range": ["#ff00ff","#ff6600","#ff9900","#ccccff","#cc99ff","#339966","#00ff00","#33cccc","#008080","#3366ff","#000080","#99ccff"]
      },
      "legend": {
        "title": null,
        "orient": "none",
        "legendX": 6,
        "legendY": 473,
        "direction": "horizontal",
        "symbolType": "M-1,0H2.71",
        "symbolSize": 196,
        "symbolStrokeWidth": 3,
        "labelFont": "Liberation Serif",
        "labelFontWeight": "bold",
        "labelFontSize": 16,
        "labelColor": "black",
        "labelOffset": 17,
        "columnPadding": 0,
        "padding": 1,
        "strokeColor": "black",
        "fillColor": "white",
        "encode": {"legend": {"update": {"strokeWidth": {"value": 2}}}}
      }
    }
  }
}
